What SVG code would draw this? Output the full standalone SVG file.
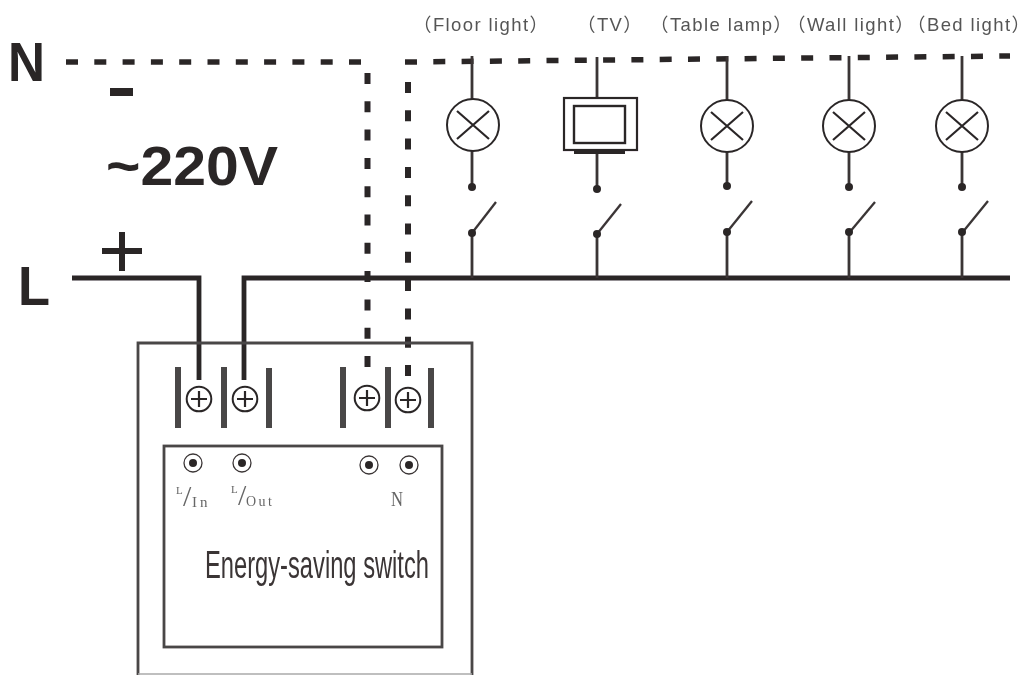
<svg xmlns="http://www.w3.org/2000/svg" width="1030" height="675" viewBox="0 0 1030 675">
<style>
.w{fill:none;stroke:#3a3536;stroke-width:2.8}
.bl{fill:none;stroke:#3a3536;stroke-width:2.3}
.t{fill:none;stroke:#2b2728;stroke-width:4.8}
.d{fill:none;stroke:#2b2728;stroke-width:5.5;stroke-dasharray:12 16.3}
.v{fill:none;stroke:#2b2728;stroke-width:6;stroke-dasharray:11 17.3}
.b{fill:none;stroke:#4a4647;stroke-width:2.8}
.bar{fill:#4a4647}
.s{fill:#fff;stroke:#2b2728;stroke-width:2}
.h{fill:none;stroke:#2b2728;stroke-width:2.2}
.k{fill:#2b2728}
.big{font-family:"Liberation Sans",Arial,sans-serif;font-weight:700;fill:#2b2728}
.lab{font-family:"Liberation Sans","Noto Sans CJK SC",sans-serif;font-size:18.5px;fill:#555;letter-spacing:1.4px}
.ser{font-family:"Liberation Serif",serif;fill:#666}
</style>
<defs>
<filter id="soft" x="-5%" y="-5%" width="110%" height="110%"><feGaussianBlur stdDeviation="0.5"/></filter>
<g id="lamp"><circle r="26" fill="#fff" stroke="#2b2728" stroke-width="2"/><path d="M-16-14L16 14M-16 14L16-14" fill="none" stroke="#2b2728" stroke-width="2.2"/></g>
<g id="screw"><circle r="12.3" class="s"/><path d="M-8 0H8M0-8V8" class="h"/></g>
<g id="led"><circle r="9" fill="#fff" stroke="#3a3536" stroke-width="1.3"/><circle r="4" class="k"/></g>
</defs>
<rect width="1030" height="675" fill="#fff"/>
<g filter="url(#soft)">
<g id="connectors">
<path class="d" d="M66 62H366"/>
<path class="v" d="M367.5 73V371"/>
<path class="d" d="M405 62L1010 56"/>
<path class="v" d="M408 82V379"/>
<path class="t" d="M72 278H199V380"/>
<path class="t" d="M244 380V278H1010"/>
<path class="w" d="M472 56V187M472 233V278"/><path class="bl" d="M472 233L496 202"/>
<path class="w" d="M597 57V189M597 234V278"/><path class="bl" d="M597 234L621 204"/>
<path class="w" d="M727 56V186M727 232V278"/><path class="bl" d="M727 232L752 201"/>
<path class="w" d="M849 56V186M849 233V278"/><path class="bl" d="M849 233L875 202"/>
<path class="w" d="M962 56V186M962 233V278"/><path class="bl" d="M962 233L988 201"/>
</g>
<g id="source">
<text class="big" x="8" y="81" font-size="55" textLength="37" lengthAdjust="spacingAndGlyphs">N</text>
<text class="big" x="18" y="305" font-size="55" textLength="32" lengthAdjust="spacingAndGlyphs">L</text>
<text class="big" x="106" y="185" font-size="55" textLength="172" lengthAdjust="spacingAndGlyphs">~220V</text>
<rect class="k" x="110" y="88" width="23" height="8"/>
<path d="M122 232V271M102 251H142" fill="none" stroke="#2b2728" stroke-width="6"/>
</g>
<g id="floor-light">
<text class="lab" x="413" y="31">（Floor light）</text>
<use href="#lamp" x="473" y="125"/><circle class="k" cx="472" cy="187" r="4"/><circle class="k" cx="472" cy="233" r="4"/>
</g>
<g id="tv">
<text class="lab" x="577" y="31">（TV）</text>
<rect x="564" y="98" width="73" height="52" fill="#fff" stroke="#2b2728" stroke-width="2.2"/>
<rect x="574" y="106" width="51" height="37" fill="#fff" stroke="#2b2728" stroke-width="2.4"/>
<rect class="k" x="574" y="150" width="51" height="4"/>
<circle class="k" cx="597" cy="189" r="4"/><circle class="k" cx="597" cy="234" r="4"/>
</g>
<g id="table-lamp">
<text class="lab" x="650" y="31">（Table lamp）</text>
<use href="#lamp" x="727" y="126"/><circle class="k" cx="727" cy="186" r="4"/><circle class="k" cx="727" cy="232" r="4"/>
</g>
<g id="wall-light">
<text class="lab" x="787" y="31">（Wall light）</text>
<use href="#lamp" x="849" y="126"/><circle class="k" cx="849" cy="187" r="4"/><circle class="k" cx="849" cy="232" r="4"/>
</g>
<g id="bed-light">
<text class="lab" x="907" y="31">（Bed light）</text>
<use href="#lamp" x="962" y="126"/><circle class="k" cx="962" cy="187" r="4"/><circle class="k" cx="962" cy="232" r="4"/>
</g>
<g id="energy-saving-switch">
<path class="b" d="M138 675V343H472V675"/>
<path d="M138 674H472" fill="none" stroke="#aaa" stroke-width="1.5"/>
<rect class="b" x="164" y="446" width="278" height="201"/>
<rect class="bar" x="175" y="367" width="6" height="61"/><rect class="bar" x="221" y="367" width="6" height="61"/><rect class="bar" x="266" y="368" width="6" height="60"/>
<rect class="bar" x="340" y="367" width="6" height="61"/><rect class="bar" x="385" y="367" width="6" height="61"/><rect class="bar" x="428" y="368" width="6" height="60"/>
<use href="#screw" x="199" y="399"/><use href="#screw" x="245" y="399"/><use href="#screw" x="367" y="398"/><use href="#screw" x="408" y="400"/>
<use href="#led" x="193" y="463"/><use href="#led" x="242" y="463"/><use href="#led" x="369" y="465"/><use href="#led" x="409" y="465"/>
<text class="ser" font-size="11" x="176" y="494">L</text>
<text class="ser" font-size="30" x="183" y="506">/</text>
<text class="ser" font-size="15" x="192" y="507" letter-spacing="3">In</text>
<text class="ser" font-size="11" x="231" y="493">L</text>
<text class="ser" font-size="30" x="238" y="505">/</text>
<text class="ser" font-size="14" x="246" y="506" letter-spacing="2.5">Out</text>
<text class="ser" font-size="20" x="391" y="506" textLength="12" lengthAdjust="spacingAndGlyphs">N</text>
<text x="205" y="578" font-family="Liberation Sans,Arial,sans-serif" font-size="38" fill="#3a3536" textLength="224" lengthAdjust="spacingAndGlyphs">Energy-saving switch</text>
</g>
</g>
</svg>
